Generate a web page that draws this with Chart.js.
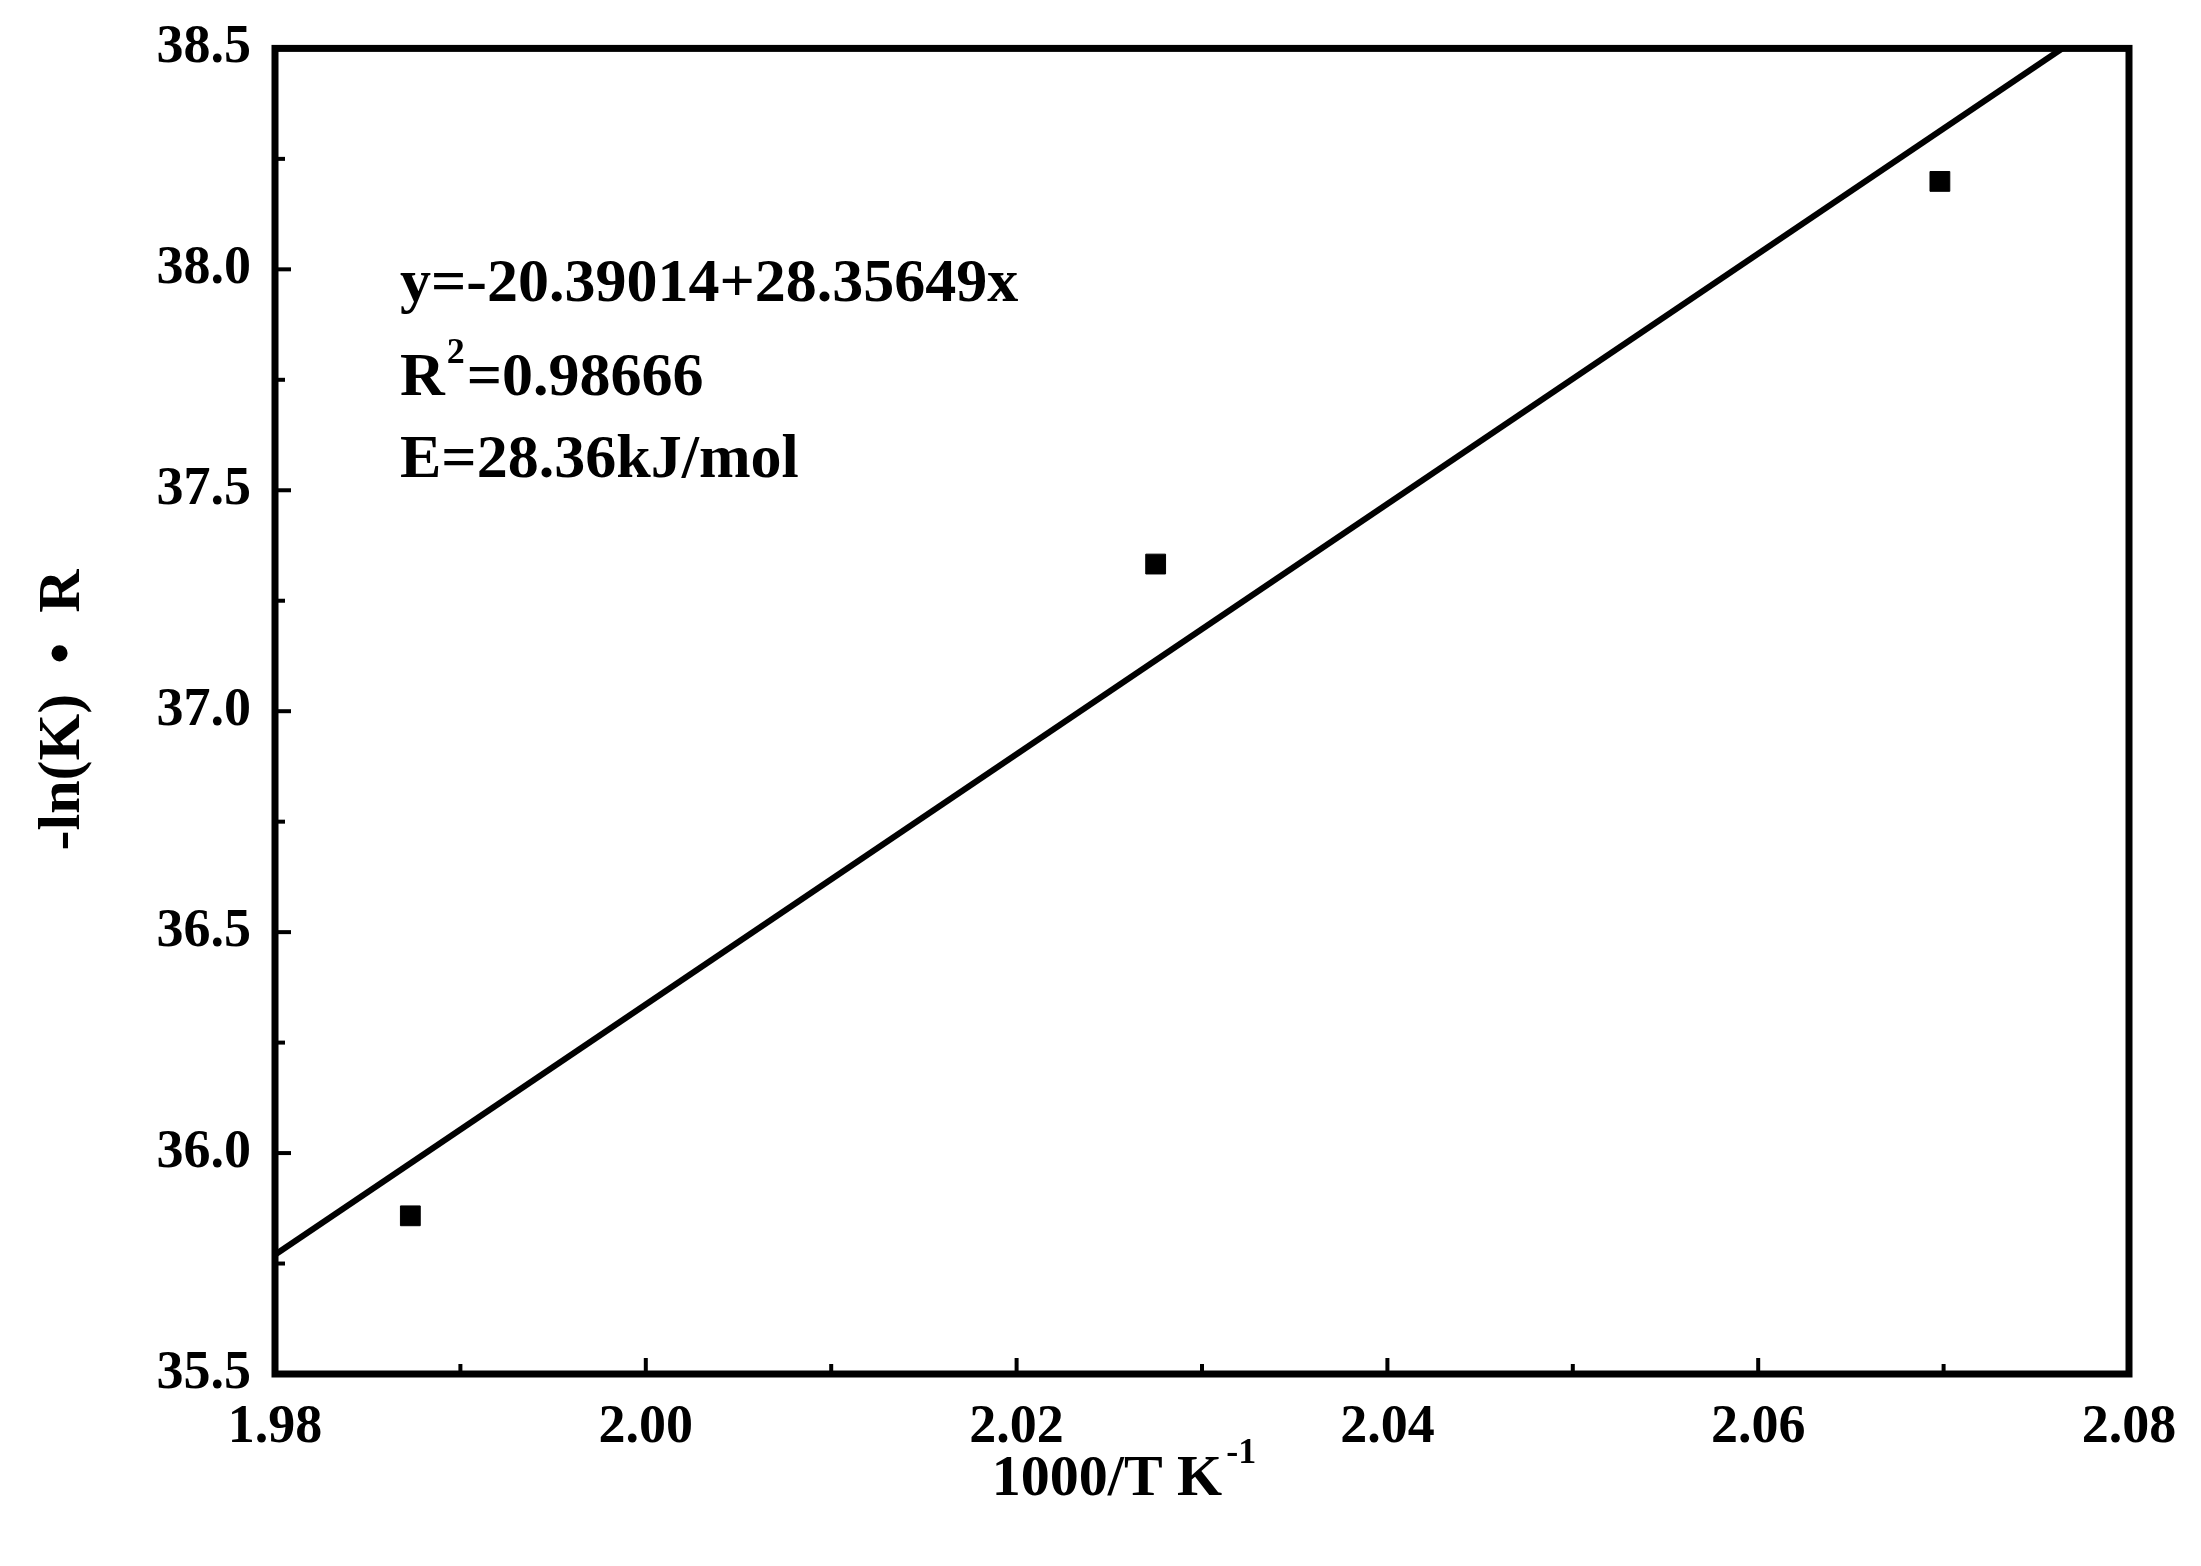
<!DOCTYPE html>
<html><head><meta charset="utf-8">
<script src="https://cdn.jsdelivr.net/npm/chart.js@4/dist/chart.umd.min.js"></script>
<style>html,body{margin:0;padding:0;background:#fff}#w{width:2201px;height:1566px}</style>
</head><body><div id="w"><canvas id="c"></canvas></div>
<script>
const xData = [1.9873, 2.0275, 2.0698];
const yData = [35.858, 37.333, 38.199];
const fitX = [1.98, 2.0764];
const fitY = [35.77, 38.5];
const xTicks = [1.98, 2.00, 2.02, 2.04, 2.06, 2.08];
const yTicks = [35.5, 36.0, 36.5, 37.0, 37.5, 38.0, 38.5];
const annot = ["y=-20.39014+28.35649x", "R", "E=28.36kJ/mol"];
const F = '"Liberation Serif", "Times New Roman", serif';

const deco = {
  id: 'deco',
  afterDraw(ch) {
    const c = ch.ctx, a = ch.chartArea, xs = ch.scales.x, ys = ch.scales.y;
    c.save();
    c.strokeStyle = '#000'; c.lineWidth = 7;
    c.strokeRect(a.left, a.top, a.right - a.left, a.bottom - a.top);
    c.lineWidth = 4;
    for (let i = 0; i < xTicks.length * 2 - 1; i++) {
      const v = xTicks[0] + i * 0.01, p = xs.getPixelForValue(v), L = i % 2 ? 10 : 16;
      c.beginPath(); c.moveTo(p, a.bottom); c.lineTo(p, a.bottom - L); c.stroke();
    }
    for (let i = 0; i < yTicks.length * 2 - 1; i++) {
      const v = yTicks[0] + i * 0.25, p = ys.getPixelForValue(v), L = i % 2 ? 10 : 16;
      c.beginPath(); c.moveTo(a.left, p); c.lineTo(a.left + L, p); c.stroke();
    }
    c.fillStyle = '#000'; c.textBaseline = 'middle';
    c.font = 'bold 62px ' + F;
    const tx = 400;
    c.fillText(annot[0], tx, 285);
    c.fillText(annot[1], tx, 379);
    let w = c.measureText(annot[1]).width;
    c.font = 'bold 36px ' + F; c.fillText('2', tx + w + 2, 354);
    c.font = 'bold 62px ' + F; c.fillText('=0.98666', tx + w + 22, 379);
    c.fillText(annot[2], tx, 461);
    // x title
    c.font = 'bold 58px ' + F;
    const t1 = '1000/T K', w1 = c.measureText(t1).width;
    c.font = 'bold 36px ' + F; const w2 = c.measureText('-1').width;
    let sx = 1124 - (w1 + w2 + 4) / 2;
    c.font = 'bold 58px ' + F; c.fillText(t1, sx, 1480);
    c.font = 'bold 36px ' + F; c.fillText('-1', sx + w1 + 4, 1454);
    // y title
    c.translate(63, 710); c.rotate(-Math.PI / 2);
    c.font = 'bold 60px ' + F; c.textAlign = 'center';
    c.fillText('-ln(K)  \u2022  R', 0, 0);
    c.restore();
  }
};

new Chart(document.getElementById('c'), {
  type: 'scatter',
  data: { datasets: [
    { data: fitX.map((x, i) => ({x, y: fitY[i]})), showLine: true, borderColor: '#000', borderWidth: 6, pointRadius: 0 },
    { data: xData.map((x, i) => ({x, y: yData[i]})), pointStyle: 'rect', pointRadius: 14, backgroundColor: '#000', borderColor: '#000' }
  ]},
  options: {
    responsive: true, maintainAspectRatio: false, animation: false,
    layout: { padding: { top: 45, right: 72, left: 0, bottom: 0 } },
    plugins: { legend: { display: false }, tooltip: { enabled: false } },
    scales: {
      x: { type: 'linear', min: 1.98, max: 2.08, afterFit(s) { s.height = 192; },
        afterBuildTicks(s) { s.ticks = xTicks.map(v => ({value: v})); },
        grid: { display: false }, border: { display: false },
        ticks: { color: '#000', font: { family: F, size: 54, weight: 'bold' }, padding: 14, maxRotation: 0,
          callback: v => v.toFixed(2) } },
      y: { type: 'linear', min: 35.5, max: 38.5, afterFit(s) { s.width = 275; },
        afterBuildTicks(s) { s.ticks = yTicks.map(v => ({value: v})); },
        grid: { display: false }, border: { display: false },
        ticks: { color: '#000', font: { family: F, size: 54, weight: 'bold' }, padding: 16,
          callback: v => v.toFixed(1) } }
    }
  },
  plugins: [deco]
});
</script></body></html>
